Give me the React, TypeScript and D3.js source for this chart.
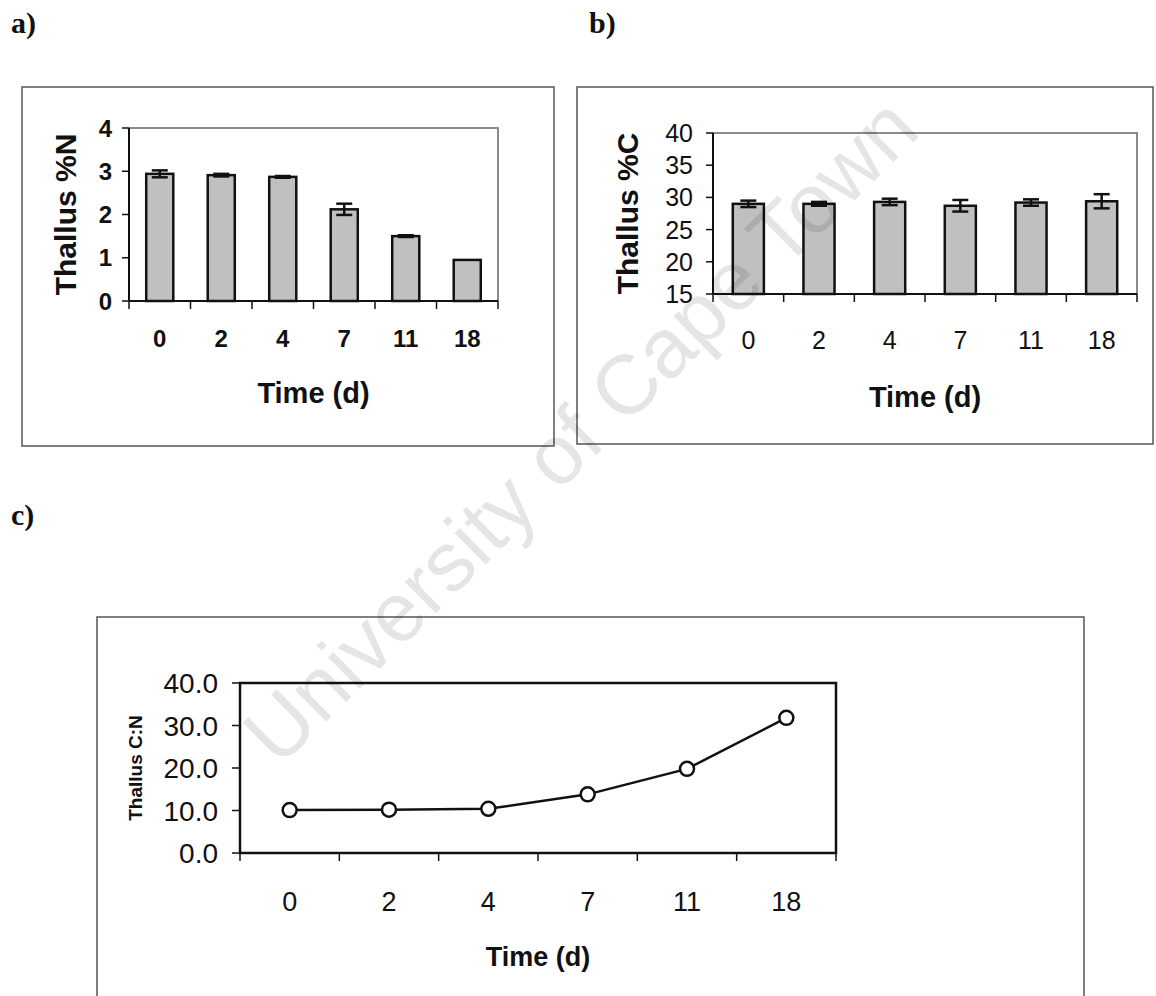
import React from 'react';
import * as d3 from 'd3';

// sampling days (x categories, shared by all three panels)
const days = ['0', '2', '4', '7', '11', '18'];

// a) thallus %N, mean and error
const nitrogen = [2.94, 2.91, 2.87, 2.12, 1.5, 0.95];
const nitrogenErr = [0.08, 0.03, 0.02, 0.13, 0.02, 0];
const nitrogenTicks = [0, 1, 2, 3, 4];

// b) thallus %C, mean and error
const carbon = [29.0, 29.0, 29.3, 28.7, 29.2, 29.4];
const carbonErr = [0.5, 0.3, 0.5, 0.9, 0.5, 1.1];
const carbonTicks = [15, 20, 25, 30, 35, 40];

// c) thallus C:N
const ratio = [10.1, 10.2, 10.4, 13.8, 19.8, 31.8];
const ratioTicks = [0, 10, 20, 30, 40];

const SANS = '"Liberation Sans", Arial, sans-serif';
const SERIF = '"Liberation Serif", "Times New Roman", serif';

type BarProps = {
  box: [number, number, number, number];
  plot: { left: number; right: number; top: number; bottom: number };
  values: number[];
  errs: number[];
  ticks: number[];
  yTitle: string;
  tickBold: boolean;
  tickSize: number;
  yTickGap: number;
  yTitleX: number;
  xLabelY: number;
  xTitleY: number;
};

function BarPanel(p: BarProps) {
  const { plot } = p;
  const x = d3.scaleBand().domain(days).range([plot.left, plot.right]).paddingInner(0.56).paddingOuter(0.28);
  const band = d3.scaleBand().domain(days).range([plot.left, plot.right]);
  const y = d3.scaleLinear().domain(d3.extent(p.ticks) as [number, number]).range([plot.bottom, plot.top]);
  const cap = 8;
  const bounds = days.map((d) => band(d) as number).concat([plot.right]);

  return (
    <g>
      <rect x={p.box[0]} y={p.box[1]} width={p.box[2] - p.box[0]} height={p.box[3] - p.box[1]} fill="none" stroke="#555" strokeWidth={1.5} />
      {/* gray top and right of plot area */}
      <path d={`M${plot.left},${plot.top}H${plot.right}V${plot.bottom}`} fill="none" stroke="#8a8a8a" strokeWidth={2} />
      {days.map((d, i) => (
        <rect key={d} x={x(d)} y={y(p.values[i])} width={x.bandwidth()} height={plot.bottom - y(p.values[i])}
          fill="#c0c0c0" stroke="#111" strokeWidth={2.5} />
      ))}
      {days.map((d, i) => {
        if (!p.errs[i]) return null;
        const cx = (x(d) as number) + x.bandwidth() / 2;
        const hi = y(p.values[i] + p.errs[i]);
        const lo = y(p.values[i] - p.errs[i]);
        return (
          <g key={'e' + d} stroke="#111" strokeWidth={2.5}>
            <line x1={cx} x2={cx} y1={hi} y2={lo} />
            <line x1={cx - cap} x2={cx + cap} y1={hi} y2={hi} />
            <line x1={cx - cap} x2={cx + cap} y1={lo} y2={lo} />
          </g>
        );
      })}
      {/* axes */}
      <line x1={plot.left} x2={plot.left} y1={plot.top} y2={plot.bottom} stroke="#111" strokeWidth={2} />
      <line x1={plot.left} x2={plot.right} y1={plot.bottom} y2={plot.bottom} stroke="#111" strokeWidth={2} />
      {p.ticks.map((t) => (
        <g key={'y' + t}>
          <line x1={plot.left - 7} x2={plot.left} y1={y(t)} y2={y(t)} stroke="#111" strokeWidth={1.5} />
          <text x={plot.left - p.yTickGap} y={y(t)} dy="0.36em" textAnchor="end" fontFamily={SANS}
            fontSize={p.tickSize} fontWeight={p.tickBold ? 'bold' : 'normal'} fill="#111">{t}</text>
        </g>
      ))}
      {bounds.map((bx, i) => (
        <line key={'xt' + i} x1={bx} x2={bx} y1={plot.bottom} y2={plot.bottom + 8} stroke="#111" strokeWidth={1.5} />
      ))}
      {days.map((d) => (
        <text key={'xl' + d} x={(band(d) as number) + band.bandwidth() / 2} y={p.xLabelY} textAnchor="middle"
          fontFamily={SANS} fontSize={p.tickSize} fontWeight={p.tickBold ? 'bold' : 'normal'} fill="#111">{d}</text>
      ))}
      <text x={(plot.left + plot.right) / 2} y={p.xTitleY} textAnchor="middle" fontFamily={SANS} fontSize={29}
        fontWeight="bold" fill="#111">Time (d)</text>
      <text transform={`translate(${p.yTitleX},${(plot.top + plot.bottom) / 2}) rotate(-90)`} dy="0.36em"
        textAnchor="middle" fontFamily={SANS} fontSize={30} fontWeight="bold" fill="#111">{p.yTitle}</text>
    </g>
  );
}

function LinePanel() {
  const plot = { left: 240, right: 836, top: 683, bottom: 853 };
  const band = d3.scaleBand().domain(days).range([plot.left, plot.right]);
  const y = d3.scaleLinear().domain([0, 40]).range([plot.bottom, plot.top]);
  const cx = (d: string) => (band(d) as number) + band.bandwidth() / 2;
  const line = d3.line<number>().x((_, i) => cx(days[i])).y((v) => y(v));
  const bounds = days.map((d) => band(d) as number).concat([plot.right]);
  const fmt = d3.format('.1f');

  return (
    <g>
      <path d="M97,996V617H1084V996" fill="none" stroke="#555" strokeWidth={1.5} />
      <rect x={plot.left} y={plot.top} width={plot.right - plot.left} height={plot.bottom - plot.top}
        fill="none" stroke="#111" strokeWidth={2.5} />
      {ratioTicks.map((t) => (
        <g key={'y' + t}>
          <line x1={plot.left - 8} x2={plot.left} y1={y(t)} y2={y(t)} stroke="#111" strokeWidth={1.5} />
          <text x={plot.left - 22} y={y(t)} dy="0.36em" textAnchor="end" fontFamily={SANS} fontSize={28} fill="#111">{fmt(t)}</text>
        </g>
      ))}
      {bounds.map((bx, i) => (
        <line key={'xt' + i} x1={bx} x2={bx} y1={plot.bottom} y2={plot.bottom + 8} stroke="#111" strokeWidth={1.5} />
      ))}
      {days.map((d) => (
        <text key={'xl' + d} x={cx(d)} y={911} textAnchor="middle" fontFamily={SANS} fontSize={27} fill="#111">{d}</text>
      ))}
      <path d={line(ratio) as string} fill="none" stroke="#111" strokeWidth={2.5} />
      {ratio.map((v, i) => (
        <circle key={'p' + i} cx={cx(days[i])} cy={y(v)} r={7} fill="#fff" stroke="#111" strokeWidth={2.5} />
      ))}
      <text x={(plot.left + plot.right) / 2} y={966} textAnchor="middle" fontFamily={SANS} fontSize={27}
        fontWeight="bold" fill="#111">Time (d)</text>
      <text transform={`translate(135,${(plot.top + plot.bottom) / 2}) rotate(-90)`} dy="0.36em" textAnchor="middle"
        fontFamily={SANS} fontSize={19} fontWeight="bold" fill="#111">Thallus C:N</text>
    </g>
  );
}

export default function App() {
  return (
    <div style={{ position: 'absolute', left: 0, top: 0 }}>
      <svg width={1156} height={996} style={{ display: 'block', background: '#fff' }}>
        <text x={11} y={33} fontFamily={SERIF} fontSize={30} fontWeight="bold" fill="#111">a)</text>
        <text x={589} y={33} fontFamily={SERIF} fontSize={30} fontWeight="bold" fill="#111">b)</text>
        <text x={11} y={525} fontFamily={SERIF} fontSize={30} fontWeight="bold" fill="#111">c)</text>

        <BarPanel box={[22, 87, 554, 446]} plot={{ left: 129, right: 498, top: 128, bottom: 301 }}
          values={nitrogen} errs={nitrogenErr} ticks={nitrogenTicks} yTitle="Thallus %N"
          tickBold={true} tickSize={24} yTickGap={17} yTitleX={65} xLabelY={347} xTitleY={403} />
        <BarPanel box={[577, 87, 1153, 444]} plot={{ left: 713, right: 1137, top: 133, bottom: 294 }}
          values={carbon} errs={carbonErr} ticks={carbonTicks} yTitle="Thallus %C"
          tickBold={false} tickSize={25} yTickGap={20} yTitleX={627} xLabelY={349} xTitleY={407} />
        <LinePanel />

        <text transform="translate(580,430) rotate(-44.6)" dy="0.35em" textAnchor="middle" fontFamily={SANS}
          fontSize={84} fill="#000" fillOpacity={0.1}>University of Cape Town</text>
      </svg>
    </div>
  );
}
